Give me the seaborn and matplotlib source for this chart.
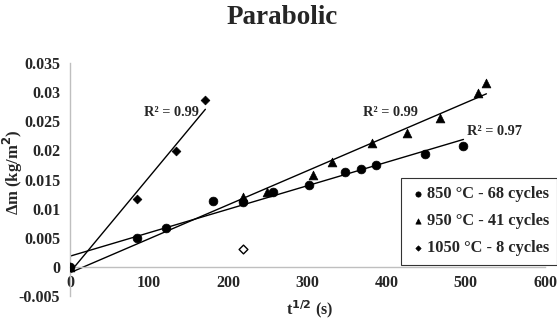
import numpy as np
import pandas as pd
import matplotlib
matplotlib.use("Agg")
import matplotlib.pyplot as plt
import seaborn as sns

# ---- data ----
x_850 = [0, 85, 121, 181, 218, 256, 302, 347, 368, 387, 448, 497]
y_850 = [0, 0.0050, 0.0067, 0.0113, 0.0111, 0.0128, 0.0140, 0.0163, 0.0168, 0.0175, 0.0193, 0.0207]
x_950 = [0, 218, 249, 307, 331, 382, 426, 467, 515, 526]
y_950 = [0, 0.0120, 0.0129, 0.0158, 0.0180, 0.0213, 0.0229, 0.0255, 0.0298, 0.0315]
x_1050 = [0, 85, 134, 171]
y_1050 = [0, 0.0116, 0.0199, 0.0286]
x_outlier = [218]
y_outlier = [0.0031]
series_labels = ["850 °C - 68 cycles", "950 °C - 41 cycles", "1050 °C - 8 cycles"]
r2_labels = ["R² = 0.97", "R² = 0.99", "R² = 0.99"]
x_ticks = [0, 100, 200, 300, 400, 500, 600]
y_ticks = [-0.005, 0, 0.005, 0.01, 0.015, 0.02, 0.025, 0.03, 0.035]
y_ticklabels = ["-0.005", "0", "0.005", "0.01", "0.015", "0.02", "0.025", "0.03", "0.035"]

sns.set_style("white")
plt.rcParams['font.family'] = ['Liberation Serif', 'DejaVu Serif']
plt.rcParams['font.weight'] = 'bold'

df = pd.DataFrame({
    "x": x_850 + x_950 + x_1050,
    "y": y_850 + y_950 + y_1050,
    "series": [series_labels[0]] * len(x_850) + [series_labels[1]] * len(x_950) + [series_labels[2]] * len(x_1050),
})

fig = plt.figure(figsize=(5.57, 3.2), dpi=100)
ax = fig.add_axes([70 / 557, 1 - 296 / 320, 475 / 557, 233 / 320])

markers = {series_labels[0]: "o", series_labels[1]: "^", series_labels[2]: "D"}
sizes = {series_labels[0]: 40, series_labels[1]: 40, series_labels[2]: 20}
for lab in series_labels:
    sub = df[df.series == lab]
    sns.scatterplot(data=sub, x="x", y="y", marker=markers[lab], s=sizes[lab],
                    color="black", edgecolor="black", linewidth=0.5, ax=ax, label=lab, zorder=3)
ax.scatter(x_outlier, y_outlier, marker="D", s=20, facecolor="white", edgecolor="black", linewidth=1.0, zorder=3)

# trend lines (linear least squares over each data range)
for xs, ys in [(x_850, y_850), (x_950, y_950), (x_1050, y_1050)]:
    xs = np.array(xs, float); ys = np.array(ys, float)
    k, b = np.polyfit(xs, ys, 1)
    xx = np.array([0, xs.max()])
    ax.plot(xx, k * xx + b, color="black", lw=1.0, zorder=2)

ax.text(163, 0.0265, r2_labels[2], fontsize=10.3, fontweight="bold", ha="right", va="center")
ax.text(439, 0.0265, r2_labels[1], fontsize=10.3, fontweight="bold", ha="right", va="center")
ax.text(502, 0.0232, r2_labels[0], fontsize=10.3, fontweight="bold", ha="left", va="center")

ax.set_xlim(0, 600)
ax.set_ylim(-0.005, 0.035)
ax.set_xticks(x_ticks)
ax.set_yticks(y_ticks)
ax.set_yticklabels(y_ticklabels)
ax.tick_params(axis="both", length=0, labelsize=11.5)
ax.tick_params(axis="x", pad=6)
ax.tick_params(axis="y", pad=7)
for lbl in ax.get_xticklabels() + ax.get_yticklabels():
    lbl.set_fontweight("bold")

for s in ["top", "right"]:
    ax.spines[s].set_visible(False)
ax.spines["bottom"].set_position(("data", 0))
ax.spines["bottom"].set_color("#bfbfbf")
ax.spines["left"].set_color("#bfbfbf")
ax.spines["bottom"].set_linewidth(1.0)
ax.spines["left"].set_linewidth(1.0)

ax.set_xlabel(r"t$^{\mathbf{1/2}}$ (s)", fontsize=11.5, fontweight="bold")
ax.xaxis.set_label_coords(0.505, -0.01)
ax.set_ylabel("Δm (kg/m$^{\\mathbf{2}}$)", fontsize=12, fontweight="bold")
ax.yaxis.set_label_coords(-0.094, 0.53)

fig.suptitle("Parabolic", x=0.507, y=0.985, fontsize=19.5, fontweight="bold")

leg = ax.legend(loc="upper right", bbox_to_anchor=((557 - 70) / 475, (296 - 178) / 233),
                frameon=True, fancybox=False, edgecolor="black",
                handletextpad=0.05, handlelength=1.0, labelspacing=0.68, borderpad=0.5,
                borderaxespad=0.0, markerscale=0.6, prop={"weight": "bold", "size": 11.8})
leg.get_frame().set_linewidth(0.8)

fig.savefig("out.png", dpi=100)
